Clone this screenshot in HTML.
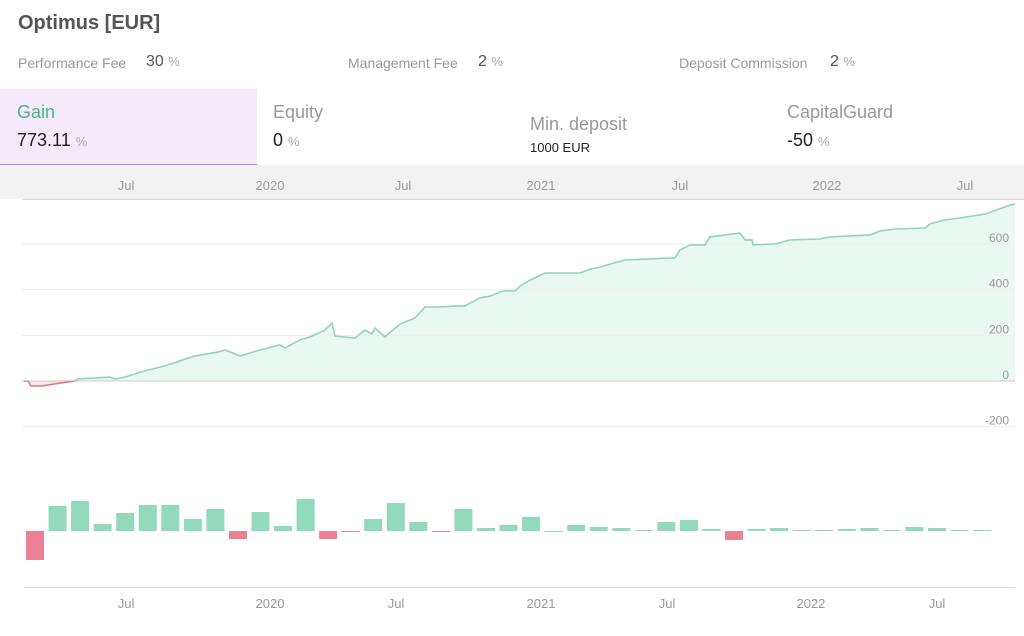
<!DOCTYPE html>
<html><head><meta charset="utf-8"><style>
body{margin:0;width:1024px;height:636px;background:#fff;font-family:"Liberation Sans",sans-serif;position:relative;overflow:hidden}
.a{position:absolute;white-space:nowrap}
.lbl{color:#9a9a9a;font-size:14px}
.val{color:#555;font-size:16px}
.pc{color:#aaa;font-size:13px}
.tl{color:#999;font-size:18px}
.tv{color:#222;font-size:18px}
</style></head><body>
<div class="a" style="left:18px;top:12px;font-size:20px;font-weight:bold;color:#555">Optimus [EUR]</div>
<div class="a lbl" style="left:18px;top:55px">Performance Fee</div>
<div class="a val" style="left:146px;top:53px">30 <span class="pc">%</span></div>
<div class="a lbl" style="left:348px;top:55px">Management Fee</div>
<div class="a val" style="left:478px;top:53px">2 <span class="pc">%</span></div>
<div class="a lbl" style="left:679px;top:55px">Deposit Commission</div>
<div class="a val" style="left:830px;top:53px">2 <span class="pc">%</span></div>

<div class="a" style="left:0;top:89px;width:257px;height:75px;background:#f3e9f8;border-bottom:1px solid #b584cc"></div>
<div class="a" style="left:17px;top:102px;font-size:18px;color:#4cb38a">Gain</div>
<div class="a tv" style="left:17px;top:130px">773.11 <span class="pc">%</span></div>
<div class="a tl" style="left:273px;top:102px">Equity</div>
<div class="a tv" style="left:273px;top:130px">0 <span class="pc">%</span></div>
<div class="a tl" style="left:530px;top:114px">Min. deposit</div>
<div class="a" style="left:530px;top:140px;font-size:13px;color:#222">1000 EUR</div>
<div class="a tl" style="left:787px;top:102px">CapitalGuard</div>
<div class="a tv" style="left:787px;top:130px">-50 <span class="pc">%</span></div>

<svg id="c" class="a" style="left:0;top:0" width="1024" height="636"></svg>
<script>
const lineT=[-0.49,-0.31,-0.18,0.31,1.11,1.77,1.91,3.33,3.55,3.99,4.66,5.76,7.10,8.12,8.43,9.09,9.98,10.86,11.09,11.75,12.20,12.86,13.17,13.30,14.19,14.63,14.94,15.08,15.52,16.19,16.85,17.29,17.96,18.63,19.07,19.73,20.18,20.62,20.84,21.29,21.51,21.95,22.62,24.17,24.61,25.06,25.50,26.16,27.05,28.38,28.60,29.05,29.71,29.93,31.26,31.49,31.80,31.84,32.82,33.48,34.81,35.25,37.03,37.47,38.14,39.47,39.69,40.35,41.02,42.13,43.24,43.46];
const lineV=[0,0,-22,-22,-9,0,9,17,9,17,39,66,110,127,136,110,136,158,145,180,193,223,254,197,188,223,206,232,193,250,276,324,324,329,329,364,372,390,394,394,416,442,473,473,490,499,512,530,534,539,574,596,596,631,648,618,618,596,600,618,622,631,640,657,666,670,688,705,714,731,771,775];
const barV=[-29,25,30,7,18,26,26,12,22,-8,19,5,32,-8,-1,12,28,9,-1,22,3,6,14,0,6,4,3,1,9,11,2,-9,2,3,1,1,2,3,1,4,3,1,1];
const yTicks=[600,400,200,0,-200];
const topTickT=[4.04,10.42,16.32,22.44,28.60,35.12,41.24];
const botTickT=[4.04,10.42,16.01,22.44,28.03,34.41,40.0];
const tickLabels=["Jul","2020","Jul","2021","Jul","2022","Jul"];
const NS="http://www.w3.org/2000/svg",svg=document.getElementById('c');
const X=t=>35+t*22.55, Y=v=>381-v*0.2283, B=v=>531-v;
function mk(tag,at,p){const e=document.createElementNS(NS,tag);for(const k in at)e.setAttribute(k,at[k]);(p||svg).appendChild(e);return e;}
const band=mk('rect',{x:0,y:165,width:1024,height:34,fill:'#f2f2f2'});


mk('line',{x1:22,x2:1024,y1:199.5,y2:199.5,stroke:'#d8d8d8'});
topTickT.forEach((t,i)=>{const e=mk('text',{x:X(t),y:190,'text-anchor':'middle','font-size':13,fill:'#999'});e.textContent=tickLabels[i];

});
const defs=mk('defs',{});
const c1=mk('clipPath',{id:'up'},defs);mk('rect',{x:0,y:0,width:1024,height:381},c1);
const c2=mk('clipPath',{id:'dn'},defs);mk('rect',{x:0,y:381,width:1024,height:100},c2);
let d=lineT.map((t,i)=>(i?'L':'M')+X(t).toFixed(1)+','+Y(lineV[i]).toFixed(1)).join('');
const area=d+'L'+X(lineT[lineT.length-1])+','+Y(0)+'L'+X(lineT[0])+','+Y(0)+'Z';
const ga=mk('path',{d:area,fill:'#eaf8f2','clip-path':'url(#up)'});


mk('path',{d:area,fill:'#fbe3e8','clip-path':'url(#dn)'});
yTicks.forEach(v=>{mk('line',{x1:22,x2:1015,y1:Y(v),y2:Y(v),stroke:v===0?'#ccc':'#eeeeee'});
const e=mk('text',{x:1009,y:Y(v)-2,'text-anchor':'end','font-size':12,fill:'#999'});e.textContent=v;

});
const gl=mk('path',{d:d,fill:'none',stroke:'#8fd6b6','stroke-width':1.6,'clip-path':'url(#up)'});


const rl=mk('path',{d:d,fill:'none',stroke:'#e0788c','stroke-width':1.6,'clip-path':'url(#dn)'});


barV.forEach((v,i)=>{const x=X(i)-9;const r=mk('rect',{x:x,y:v>=0?B(v):B(0),width:18,height:Math.max(Math.abs(v),1),fill:v>=0?'#93d9bb':'#ec8096'});

});
mk('line',{x1:24,x2:1015,y1:587.5,y2:587.5,stroke:'#ddd'});
botTickT.forEach((t,i)=>{const e=mk('text',{x:X(t),y:608,'text-anchor':'middle','font-size':13,fill:'#999'});e.textContent=tickLabels[i];

});
</script>
</body></html>
